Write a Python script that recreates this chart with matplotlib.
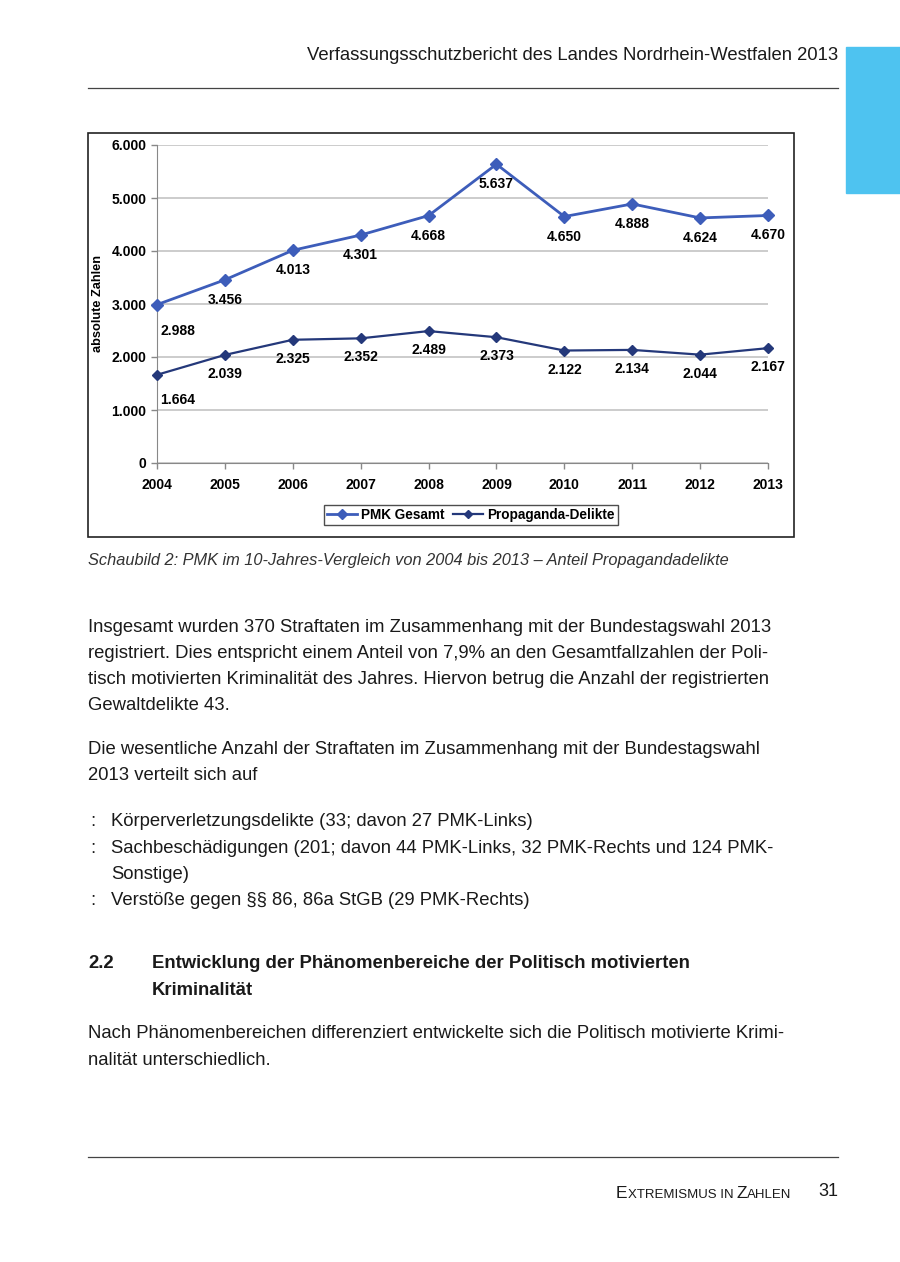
import matplotlib
matplotlib.use("Agg")
import matplotlib.pyplot as plt
from matplotlib.patches import Rectangle
from matplotlib.lines import Line2D
from matplotlib.ticker import FuncFormatter

plt.rcParams['font.family'] = ['Liberation Sans', 'DejaVu Sans']

# chart data
years = [2004, 2005, 2006, 2007, 2008, 2009, 2010, 2011, 2012, 2013]
pmk_gesamt = [2988, 3456, 4013, 4301, 4668, 5637, 4650, 4888, 4624, 4670]
propaganda = [1664, 2039, 2325, 2352, 2489, 2373, 2122, 2134, 2044, 2167]
series_names = ["PMK Gesamt", "Propaganda-Delikte"]
y_label = "absolute Zahlen"

header = "Verfassungsschutzbericht des Landes Nordrhein-Westfalen 2013"
caption = "Schaubild 2: PMK im 10-Jahres-Vergleich von 2004 bis 2013 – Anteil Propagandadelikte"
para1 = ["Insgesamt wurden 370 Straftaten im Zusammenhang mit der Bundestagswahl 2013",
         "registriert. Dies entspricht einem Anteil von 7,9% an den Gesamtfallzahlen der Poli-",
         "tisch motivierten Kriminalität des Jahres. Hiervon betrug die Anzahl der registrierten",
         "Gewaltdelikte 43."]
para2 = ["Die wesentliche Anzahl der Straftaten im Zusammenhang mit der Bundestagswahl",
         "2013 verteilt sich auf"]
bullets = [["Körperverletzungsdelikte (33; davon 27 PMK-Links)"],
           ["Sachbeschädigungen (201; davon 44 PMK-Links, 32 PMK-Rechts und 124 PMK-",
            "Sonstige)"],
           ["Verstöße gegen §§ 86, 86a StGB (29 PMK-Rechts)"]]
heading_no = "2.2"
heading = ["Entwicklung der Phänomenbereiche der Politisch motivierten", "Kriminalität"]
para3 = ["Nach Phänomenbereichen differenziert entwickelte sich die Politisch motivierte Krimi-",
         "nalität unterschiedlich."]
footer_page = "31"

W, H = 900, 1262
fig = plt.figure(figsize=(W / 100, H / 100), dpi=100)
fig.patch.set_facecolor("white")


def fx(px):
    return px / W


def fy(py):
    return 1 - py / H


def txt(x, y, s, **kw):
    kw.setdefault("va", "center")
    kw.setdefault("color", "#1a1a1a")
    return fig.text(fx(x), fy(y), s, **kw)


# header
txt(838, 55, header, ha="right", fontsize=13.3)
fig.add_artist(Line2D([fx(88), fx(838)], [fy(88), fy(88)], color="#444444", lw=0.9))
fig.add_artist(Rectangle((fx(846), fy(193)), fx(900) - fx(846), fy(47) - fy(193),
                         color="#4EC3F0", transform=fig.transFigure))

# chart frame
fig.add_artist(Rectangle((fx(88), fy(537)), fx(794) - fx(88), fy(133) - fy(537),
                         fill=False, edgecolor="#222222", lw=1.2, transform=fig.transFigure))

ax = fig.add_axes([fx(157), fy(463), fx(768) - fx(157), fy(145) - fy(463)])
c1 = "#3D5DBA"
c2 = "#24387A"
ax.plot(years, pmk_gesamt, color=c1, lw=2, marker="D", ms=6, clip_on=False,
        label=series_names[0], zorder=3)
ax.plot(years, propaganda, color=c2, lw=1.6, marker="D", ms=5, clip_on=False,
        label=series_names[1], zorder=3)

ax.set_xlim(years[0], years[-1])
ax.set_ylim(0, 6000)
ax.set_yticks(range(0, 6001, 1000))
ax.set_xticks(years)
ax.yaxis.set_major_formatter(FuncFormatter(lambda v, p: f"{int(v):,}".replace(",", ".")))
ax.grid(axis="y", color="#c4c4c4", lw=1.2)
ax.set_axisbelow(True)
for s in ["top", "right"]:
    ax.spines[s].set_visible(False)
for s in ["left", "bottom"]:
    ax.spines[s].set_color("#888888")
ax.tick_params(axis="both", colors="#888888", length=4, width=1, labelcolor="black",
               labelsize=10)
ax.tick_params(axis="x", pad=7)
for lab in ax.get_xticklabels() + ax.get_yticklabels():
    lab.set_fontweight("bold")

fmt = lambda v: f"{v:,}".replace(",", ".")
for i, (x, v) in enumerate(zip(years, pmk_gesamt)):
    off = (21, -26) if i == 0 else (0, -20)
    ax.annotate(fmt(v), (x, v), xytext=off, textcoords="offset pixels",
                ha="center", va="center", fontsize=10, fontweight="bold")
for i, (x, v) in enumerate(zip(years, propaganda)):
    off = (21, -25) if i == 0 else (0, -19)
    ax.annotate(fmt(v), (x, v), xytext=off, textcoords="offset pixels",
                ha="center", va="center", fontsize=10, fontweight="bold")

txt(98, 304, y_label, rotation=90, ha="center", fontsize=9.2, fontweight="bold", color="black")

leg = fig.legend(handles=ax.get_lines(), loc="center", bbox_to_anchor=(fx(471), fy(515)),
                 ncol=2, frameon=True, fancybox=False, handlelength=2.2,
                 handletextpad=0.3, columnspacing=0.6, borderpad=0.25, markerscale=0.85,
                 prop={"weight": "bold", "size": 9.8})
leg.get_frame().set_edgecolor("#222222")
leg.get_frame().set_linewidth(1)

# caption
txt(88, 560, caption, ha="left", fontsize=11.8, style="italic", color="#333333")

# body text
body = dict(ha="left", fontsize=13.3)
for i, line in enumerate(para1):
    txt(88, 627 + i * 26.2, line, **body)
for i, line in enumerate(para2):
    txt(88, 749 + i * 26.2, line, **body)
yb = 822
for item in bullets:
    txt(90, yb, ":", ha="left", fontsize=13.3)
    for line in item:
        txt(111, yb, line, **body)
        yb += 26.3
txt(88, 964, heading_no, ha="left", fontsize=13.3, fontweight="bold")
for i, line in enumerate(heading):
    txt(152, 964 + i * 26.2, line, ha="left", fontsize=13.3, fontweight="bold")
for i, line in enumerate(para3):
    txt(88, 1034 + i * 26.2, line, **body)

# footer
fig.add_artist(Line2D([fx(88), fx(838)], [fy(1157), fy(1157)], color="#444444", lw=0.9))
pieces = [("E", 12.5), ("XTREMISMUS IN ", 9.5), ("Z", 12.5), ("AHLEN", 9.5)]
renderer = fig.canvas.get_renderer()
xcur = 616
for s, size in pieces:
    t = txt(xcur, 1192, s, ha="left", va="baseline", fontsize=size)
    t.set_y(fy(1198))
    bb = t.get_window_extent(renderer=renderer)
    xcur += bb.width
txt(838, 1192, footer_page, ha="right", fontsize=13)

fig.savefig("out.png", dpi=100, facecolor="white")
